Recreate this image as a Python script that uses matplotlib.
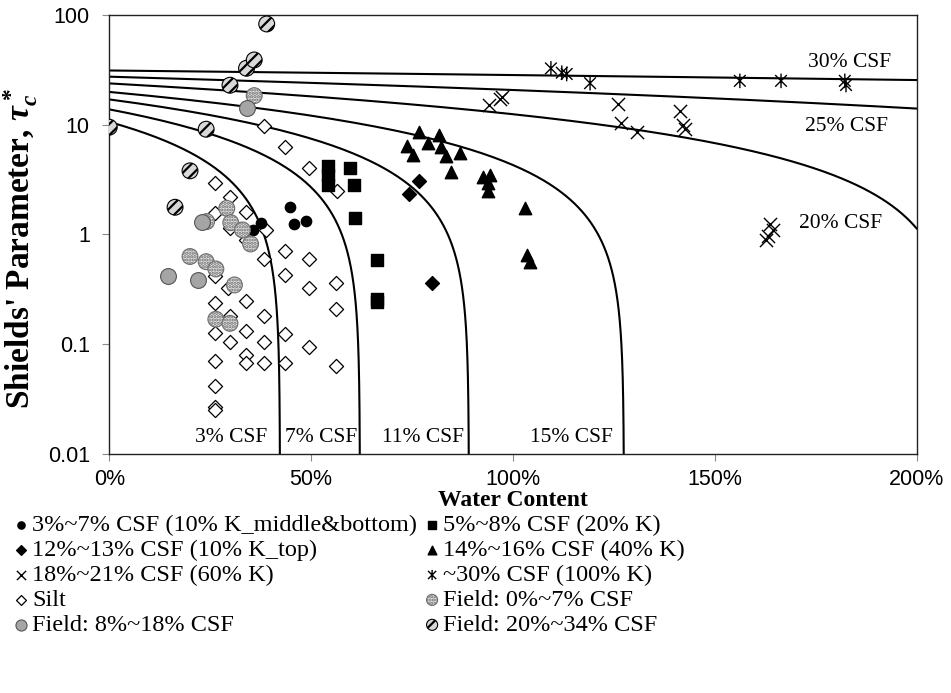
import numpy as np
import matplotlib.pyplot as plt
from matplotlib.path import Path

# critical shear envelopes: tau_c* = tau0 * (1 - w / w_limit)
CSF_LABELS = ["3% CSF", "7% CSF", "11% CSF", "15% CSF", "20% CSF", "25% CSF", "30% CSF"]
CSF_TAU0 = [10.6, 13.8, 17.0, 19.9, 23.8, 27.4, 31.2]
CSF_W_LIMIT = [42.3, 62.1, 89.1, 127.5, 210.0, 410.0, 1100.0]

# lab flume tests
k_mid_w = [37.7, 35.5, 44.8, 45.8, 48.7]
k_mid_tau = [1.27, 1.10, 1.79, 1.25, 1.33]

k20_w = [54.3, 54.3, 54.3, 59.6, 60.6, 60.9, 66.2, 66.2, 66.2]
k20_tau = [4.2, 3.5, 2.83, 4.07, 2.83, 1.42, 0.586, 0.258, 0.245]

k_top_w = [76.6, 74.3, 79.9]
k_top_tau = [3.07, 2.32, 0.359]

k40_w = [76.7, 81.7, 73.7, 79.0, 82.1, 75.2, 83.3, 86.9, 84.6, 92.7, 94.3, 93.9, 93.7,
         103.1, 103.4, 104.2]
k40_tau = [8.5, 8.07, 6.4, 6.87, 6.3, 5.3, 5.19, 5.5, 3.7, 3.37, 3.48, 2.97, 2.51,
           1.75, 0.65, 0.565]

k60_w = [94.1, 96.8, 97.4, 125.9, 126.7, 130.6, 141.4, 142.2, 142.6, 163.7, 164.5, 163.2, 162.8]
k60_tau = [15.1, 17.1, 18.0, 15.5, 10.4, 8.5, 13.3, 9.96, 9.15, 1.25, 1.10, 0.97, 0.89]

k100_w = [109.4, 112.1, 113.3, 119.1, 156.2, 166.4, 182.2, 182.5]
k100_tau = [32.6, 29.8, 29.0, 23.9, 25.1, 25.1, 25.1, 23.0]

silt_w = [38.4, 43.6, 49.4, 26.2, 29.9, 56.3, 26.2, 33.8, 29.9, 38.7, 33.8, 43.5, 38.3,
          49.5, 43.5, 26.2, 29.5, 49.5, 56.2, 26.2, 33.8, 56.2, 38.3, 29.9, 26.2, 33.8,
          43.5, 29.9, 38.3, 49.5, 26.2, 33.8, 33.8, 38.3, 43.5, 56.2, 26.2, 26.2, 26.2]
silt_tau = [9.8, 6.3, 4.0, 2.97, 2.21, 2.51, 1.56, 1.59, 1.14, 1.10, 0.89, 0.71, 0.594,
            0.594, 0.428, 0.419, 0.324, 0.327, 0.359, 0.236, 0.250, 0.209, 0.182, 0.182,
            0.127, 0.132, 0.123, 0.105, 0.105, 0.095, 0.071, 0.080, 0.068, 0.068, 0.067,
            0.063, 0.042, 0.027, 0.025]

# field samples
f0_w = [35.9, 29.1, 30.1, 33.0, 35.0, 20.0, 24.0, 26.4, 31.0, 26.4, 29.9, 24.1]
f0_tau = [18.4, 1.73, 1.28, 1.10, 0.82, 0.63, 0.565, 0.485, 0.347, 0.169, 0.155, 1.31]

f8_w = [34.0, 22.9, 14.6, 22.0]
f8_tau = [14.1, 1.29, 0.42, 0.385]

f20_w = [0.0, 16.3, 20.0, 24.0, 29.9, 34.0, 35.9, 39.0]
f20_tau = [9.5, 1.77, 3.8, 9.1, 22.9, 32.7, 38.9, 82.8]

plt.rcParams['font.family'] = 'Liberation Serif'
plt.rcParams['hatch.linewidth'] = 1.6
plt.rcParams['mathtext.fontset'] = 'custom'
plt.rcParams['mathtext.it'] = 'Liberation Serif:italic:bold'
plt.rcParams['mathtext.rm'] = 'Liberation Serif:bold'

fig = plt.figure(figsize=(9.51, 6.93), dpi=100)
ax = fig.add_axes([0.1149, 0.3449, 0.849, 0.6335])

for tau0, w_lim in zip(CSF_TAU0, CSF_W_LIMIT):
    w_end = min(w_lim, 200.0)
    # pack samples toward the limit so the drop-off stays smooth on the log axis
    w = w_lim * (1 - np.geomspace(1.0, 1 - w_end / w_lim + 1e-7, 600))
    ax.plot(w, tau0 * (1 - w / w_lim), color='black', lw=1.5, zorder=2)

label_pos = [(30.3, 0.0141), (52.6, 0.0141), (77.8, 0.0141), (114.5, 0.0141),
             (181.2, 1.26), (182.6, 9.6), (183.5, 36.6)]
for text, (lx, ly) in zip(CSF_LABELS, label_pos):
    ax.text(lx, ly, text, fontsize=15.5, ha='center', va='center', zorder=3)

star = Path([(-1, -1), (1, 1), (-1, 1), (1, -1), (0, -1.25), (0, 1.25)],
            [Path.MOVETO, Path.LINETO, Path.MOVETO, Path.LINETO, Path.MOVETO, Path.LINETO])

h_silt = ax.scatter(silt_w, silt_tau, s=52, marker='D', facecolor='white',
                    edgecolor='black', linewidth=0.9, zorder=4)
h_mid = ax.scatter(k_mid_w, k_mid_tau, s=55, marker='o', color='black', zorder=5)
h_k20 = ax.scatter(k20_w, k20_tau, s=80, marker='s', color='black', zorder=5)
h_top = ax.scatter(k_top_w, k_top_tau, s=50, marker='D', color='black', zorder=5)
h_k40 = ax.scatter(k40_w, k40_tau, s=80, marker='^', color='black', zorder=5)
h_k60 = ax.scatter(k60_w, k60_tau, s=90, marker='x', color='black', linewidth=1.0, zorder=5)
h_k100 = ax.scatter(k100_w, k100_tau, s=110, marker=star, facecolor='none',
                    edgecolor='black', linewidth=1.0, zorder=5)
h_f0 = ax.scatter(f0_w, f0_tau, s=130, marker='o', facecolor='#e4e4e4',
                  edgecolor='#6e6e6e', hatch='.....', linewidth=0.8, zorder=6)
h_f8 = ax.scatter(f8_w, f8_tau, s=130, marker='o', facecolor='#a5a5a5',
                  edgecolor='#555555', linewidth=0.8, zorder=6)
h_f20 = ax.scatter(f20_w, f20_tau, s=130, marker='o', facecolor='#d8d8d8',
                   edgecolor='black', hatch='///', linewidth=0.8, zorder=7)

ax.set_yscale('log')
ax.set_xlim(0, 200)
ax.set_ylim(0.01, 100)
ax.set_xticks([0, 50, 100, 150, 200])
ax.set_xticklabels(['0%', '50%', '100%', '150%', '200%'])
ax.set_yticks([0.01, 0.1, 1, 10, 100])
ax.set_yticklabels(['0.01', '0.1', '1', '10', '100'])
ax.yaxis.set_minor_locator(plt.NullLocator())
ax.tick_params(direction='out', length=5, width=0.8, color='#8a8a8a')
ax.tick_params(axis='y', pad=9)
ax.tick_params(axis='x', pad=6)
for lbl in ax.get_xticklabels() + ax.get_yticklabels():
    lbl.set_fontfamily('Liberation Sans')
    lbl.set_fontsize(15.5)
for sp in ax.spines.values():
    sp.set_linewidth(1.0)
    sp.set_color('#222222')

ax.set_xlabel('Water Content', fontsize=17, fontweight='bold')
ax.xaxis.set_label_coords(0.5, -0.082)
ax.set_ylabel(r"Shields' Parameter, $\tau_c^*$", fontsize=24, fontweight='bold')
ax.yaxis.set_label_coords(-0.086, 0.468)

handles = [h_mid, h_top, h_k60, h_silt, h_f8, h_k20, h_k40, h_k100, h_f0, h_f20]
labels = ['3%~7% CSF (10% K_middle&bottom)', '12%~13% CSF (10% K_top)',
          '18%~21% CSF (60% K)', 'Silt', 'Field: 8%~18% CSF',
          '5%~8% CSF (20% K)', '14%~16% CSF (40% K)', '~30% CSF (100% K)',
          'Field: 0%~7% CSF', 'Field: 20%~34% CSF']
fig.legend(handles, labels, loc='upper left', bbox_to_anchor=(0.0158, 0.2576),
           ncol=2, frameon=False, fontsize=17.5, markerscale=0.7, handlelength=0.5,
           handletextpad=0.2, columnspacing=0.37, labelspacing=0.12, borderpad=0,
           borderaxespad=0, scatterpoints=1)

fig.savefig('out.png', dpi=100)
